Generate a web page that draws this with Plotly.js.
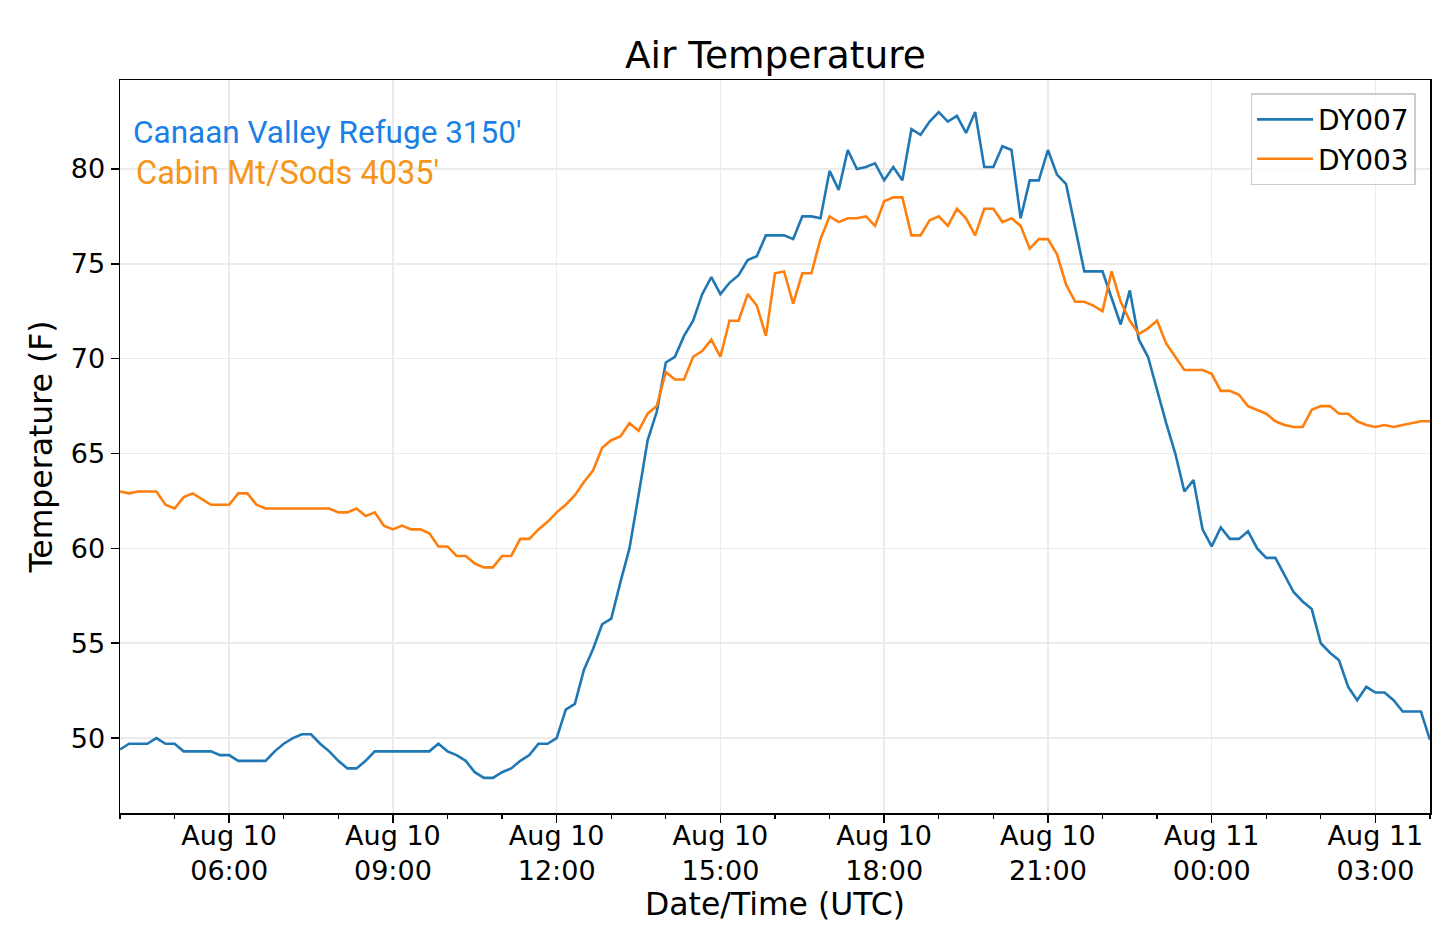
<!DOCTYPE html>
<html>
<head>
<meta charset="utf-8">
<script src="https://cdn.plot.ly/plotly-3.0.1.min.js"></script>
<style>html,body{margin:0;padding:0;background:#fff}#chart{width:1440px;height:943px}</style>
</head>
<body>
<div id="chart"></div>
<script>
// 10-minute observations starting Aug 10 04:00 UTC
var startTime = '2019-08-10T04:00:00Z';
var stepMinutes = 10;
var seriesNames = ['DY007', 'DY003'];
var dy007 = [
49.4,49.7,49.7,49.7,50.0,49.7,49.7,49.3,49.3,49.3,
49.3,49.1,49.1,48.8,48.8,48.8,48.8,49.3,49.7,50.0,
50.2,50.2,49.7,49.3,48.8,48.4,48.4,48.8,49.3,49.3,
49.3,49.3,49.3,49.3,49.3,49.7,49.3,49.1,48.8,48.2,
47.9,47.9,48.2,48.4,48.8,49.1,49.7,49.7,50.0,51.5,
51.8,53.6,54.7,56.0,56.3,58.2,60.0,62.8,65.7,67.2,
69.8,70.1,71.2,72.0,73.4,74.3,73.4,74.0,74.4,75.2,
75.4,76.5,76.5,76.5,76.3,77.5,77.5,77.4,79.9,78.9,
81.0,80.0,80.1,80.3,79.4,80.1,79.4,82.1,81.8,82.5,
83.0,82.5,82.8,81.9,83.0,80.1,80.1,81.2,81.0,77.4,
79.4,79.4,81.0,79.7,79.2,76.9,74.6,74.6,74.6,73.2,
71.8,73.6,71.0,70.1,68.3,66.6,65.0,63.0,63.6,61.0,
60.1,61.1,60.5,60.5,60.9,60.0,59.5,59.5,58.6,57.7,
57.2,56.8,55.0,54.5,54.1,52.7,52.0,52.7,52.4,52.4,
52.0,51.4,51.4,51.4,49.9
];
var dy003 = [
63.0,62.9,63.0,63.0,63.0,62.3,62.1,62.7,62.9,62.6,
62.3,62.3,62.3,62.9,62.9,62.3,62.1,62.1,62.1,62.1,
62.1,62.1,62.1,62.1,61.9,61.9,62.1,61.7,61.9,61.2,
61.0,61.2,61.0,61.0,60.8,60.1,60.1,59.6,59.6,59.2,
59.0,59.0,59.6,59.6,60.5,60.5,61.0,61.4,61.9,62.3,
62.8,63.5,64.1,65.3,65.7,65.9,66.6,66.2,67.1,67.5,
69.3,68.9,68.9,70.1,70.4,71.0,70.1,72.0,72.0,73.4,
72.8,71.2,74.5,74.6,72.9,74.5,74.5,76.3,77.5,77.2,
77.4,77.4,77.5,77.0,78.3,78.5,78.5,76.5,76.5,77.3,
77.5,77.0,77.9,77.4,76.5,77.9,77.9,77.2,77.4,77.0,
75.8,76.3,76.3,75.5,73.9,73.0,73.0,72.8,72.5,74.6,
73.0,72.0,71.3,71.6,72.0,70.8,70.1,69.4,69.4,69.4,
69.2,68.3,68.3,68.1,67.5,67.3,67.1,66.7,66.5,66.4,
66.4,67.3,67.5,67.5,67.1,67.1,66.7,66.5,66.4,66.5,
66.4,66.5,66.6,66.7,66.7
];
var stationLabels = ["Canaan Valley Refuge 3150'", "Cabin Mt/Sods 4035'"];
var xRange = ['2019-08-10 04:00', '2019-08-11 04:00'];
var yRange = [46.05, 84.69];
var yTicks = [50, 55, 60, 65, 70, 75, 80];

function buildTimes(n) {
  var t0 = new Date(startTime).getTime();
  var out = [];
  for (var i = 0; i < n; i++) {
    var d = new Date(t0 + i * stepMinutes * 60000);
    out.push(d.toISOString().slice(0, 19).replace('T', ' '));
  }
  return out;
}
var times = buildTimes(dy007.length);

var FONT = 'DejaVu Sans, sans-serif';
var traces = [
  {x: times, y: dy007, name: seriesNames[0], type: 'scatter', mode: 'lines',
   line: {color: '#1f77b4', width: 2.6}},
  {x: times, y: dy003, name: seriesNames[1], type: 'scatter', mode: 'lines',
   line: {color: '#ff7f0e', width: 2.6}}
];

var layout = {
  width: 1440, height: 943,
  margin: {l: 120, r: 10, t: 80, b: 130},
  paper_bgcolor: '#fff', plot_bgcolor: '#fff',
  font: {family: FONT, size: 27, color: '#000'},
  title: {text: 'Air Temperature', font: {family: FONT, size: 37.5, color: '#000'},
          x: 0.5385, xanchor: 'center', y: 0.942, yanchor: 'middle'},
  showlegend: true,
  legend: {x: 0.989, y: 0.982, xanchor: 'right', yanchor: 'top',
           bgcolor: 'rgba(255,255,255,0.8)', bordercolor: '#cccccc', borderwidth: 1.5,
           font: {family: FONT, size: 28, color: '#000'}, itemwidth: 56, tracegroupgap: 4},
  xaxis: {
    type: 'date', range: xRange, dtick: 3 * 3600000, tick0: '2019-08-10 00:00',
    tickformat: '%b %d<br>%H:%M', ticks: 'outside', ticklen: 8, tickwidth: 1.5, tickcolor: '#000',
    ticklabelstandoff: -10,
    minor: {dtick: 3600000, ticks: 'outside', ticklen: 4, tickwidth: 1.2, tickcolor: '#000', showgrid: false},
    showgrid: true, gridcolor: '#ebebeb', gridwidth: 1.5,
    showline: true, linecolor: '#000', linewidth: 1.5, mirror: true,
    zeroline: false,
    tickfont: {family: FONT, size: 27, color: '#000'},
    title: {text: 'Date/Time (UTC)', font: {family: FONT, size: 31.5, color: '#000'}, standoff: 6}
  },
  yaxis: {
    range: yRange, tickvals: yTicks, ticks: 'outside', ticklen: 8, tickwidth: 1.5, tickcolor: '#000',
    showgrid: true, gridcolor: '#ebebeb', gridwidth: 1.5,
    showline: true, linecolor: '#000', linewidth: 1.5, mirror: true,
    zeroline: false,
    tickfont: {family: FONT, size: 27, color: '#000'},
    title: {text: 'Temperature (F)', font: {family: FONT, size: 31.5, color: '#000'}, standoff: 8}
  },
  annotations: [
    {xref: 'paper', yref: 'paper', x: 0.0084, y: 0.929, xanchor: 'left', yanchor: 'middle',
     text: stationLabels[0], showarrow: false,
     font: {family: 'Roboto, sans-serif', size: 31.5, color: '#1a7fe6'}},
    {xref: 'paper', yref: 'paper', x: 0.0105, y: 0.873, xanchor: 'left', yanchor: 'middle',
     text: stationLabels[1], showarrow: false,
     font: {family: 'Roboto, sans-serif', size: 32.5, color: '#f5961a'}}
  ]
};

Plotly.newPlot('chart', traces, layout, {displayModeBar: false, staticPlot: true});
</script>
</body>
</html>
